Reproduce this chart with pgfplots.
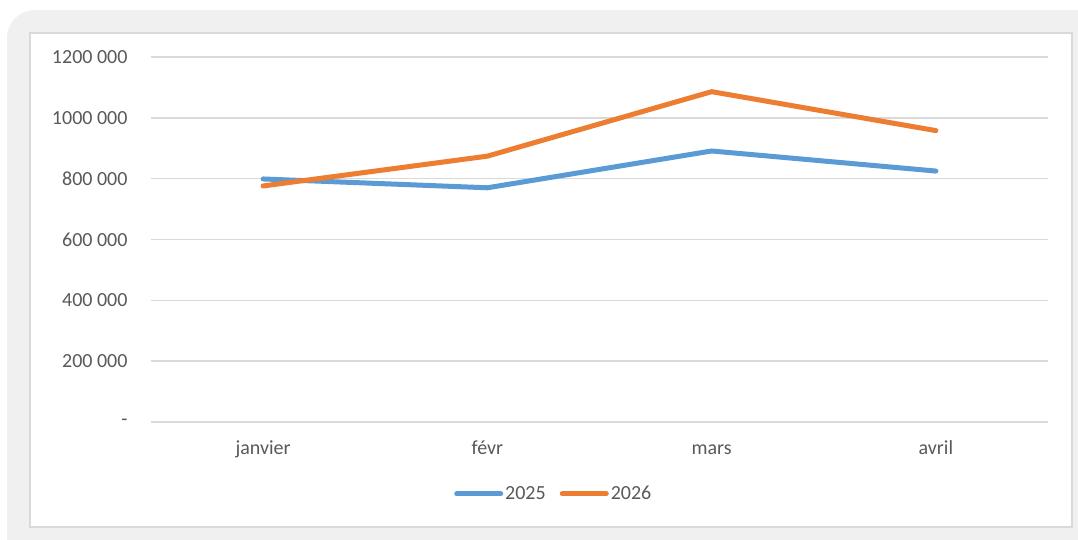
\documentclass[border=0pt]{standalone}
\usepackage{pgfplots}
\pgfplotsset{compat=1.18}
\usepackage{fontspec}
\setmainfont{Carlito}
\definecolor{bgGray}{HTML}{F0F0F0}
\definecolor{panelBorder}{HTML}{D9D9D9}
\definecolor{gridGray}{HTML}{D9D9D9}
\definecolor{txtGray}{HTML}{595959}
\definecolor{sBlue}{HTML}{5B9BD5}
\definecolor{sOrange}{HTML}{ED7D31}
\begin{document}
\begin{tikzpicture}
\path[use as bounding box] (0pt,0pt) rectangle (1078pt,540pt);
\begin{scope}
\clip (0pt,0pt) rectangle (1078pt,540pt);
\fill[white] (0pt,0pt) rectangle (1078pt,540pt);
\fill[bgGray, rounded corners=28pt] (7pt,-40pt) rectangle (1110pt,530pt);
\fill[white, draw=panelBorder, line width=1.5pt] (30pt,13pt) rectangle (1072pt,507pt);
\end{scope}
\begin{axis}[
  at={(151pt,118pt)}, anchor=south west,
  scale only axis, width=897pt, height=365pt,
  xmin=-0.5, xmax=3.5, ymin=0, ymax=1200000,
  scaled y ticks=false,
  axis line style={draw=none},
  major tick length=0pt,
  xtick={0,1,2,3},
  xticklabels={janvier,févr,mars,avril},
  ytick={0,200000,400000,600000,800000,1000000,1200000},
  yticklabels={-,200 000,400 000,600 000,800 000,1000 000,1200 000},
  ymajorgrids,
  major grid style={draw=gridGray, line width=1.5pt},
  tick label style={font=\fontsize{20}{24}\selectfont, text=txtGray},
  yticklabel style={anchor=east, xshift=-20pt},
  xticklabel style={anchor=base, yshift=-33pt},
  legend style={at={(0.449,-0.197)}, anchor=center, draw=none, fill=none,
    legend columns=2, font=\fontsize{20}{24}\selectfont, text=txtGray,
    /tikz/every even column/.append style={column sep=12pt},
    legend cell align=left},
  legend image code/.code={\draw[#1, line width=5pt, line cap=round] (0pt,0pt) -- (44pt,0pt);},
]
\addplot[sBlue, line width=5pt, line join=round, line cap=round] coordinates {(0,799000) (1,770000) (2,891000) (3,825000)};
\addlegendentry{2025}
\addplot[sOrange, line width=5pt, line join=round, line cap=round] coordinates {(0,776000) (1,874000) (2,1086000) (3,958000)};
\addlegendentry{2026}
\end{axis}
\end{tikzpicture}
\end{document}
